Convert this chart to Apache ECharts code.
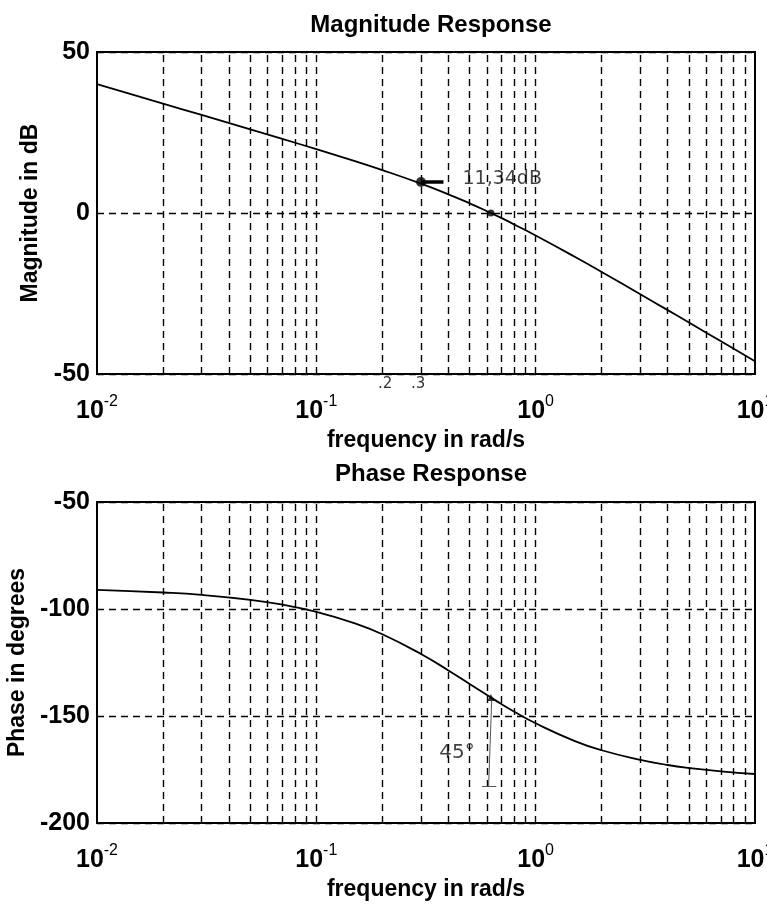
<!DOCTYPE html>
<html><head><meta charset="utf-8">
<script src="https://cdn.jsdelivr.net/npm/echarts@6/dist/echarts.min.js"></script>
<style>html,body{margin:0;padding:0;background:#fff}#c{width:767px;height:909px}</style>
</head><body><div id="c"></div>
<script>
// ---- data ----
const freqs      = [0.01, 0.02, 0.03, 0.05, 0.07, 0.1, 0.15, 0.2, 0.3, 0.4, 0.5, 0.6, 0.7, 0.8, 1, 1.5, 2, 3, 4, 5, 7, 10];
const magnitude  = [40.0, 33.97, 30.44, 25.98, 23.01, 19.83, 16.10, 13.33, 9.12, 5.81, 3.01, 0.56, -1.61, -3.58, -6.99, -13.52, -18.32, -25.22, -30.17, -34.02, -39.84, -46.03];
const phase      = [-91.1, -92.3, -93.4, -95.7, -98.0, -101.3, -106.7, -111.8, -121.0, -128.7, -135.0, -140.2, -144.5, -148.0, -153.4, -161.6, -166.0, -170.5, -172.9, -174.3, -175.9, -177.1];
const gridFreqs  = [0.02,0.03,0.04,0.05,0.06,0.07,0.08,0.09,0.1,0.2,0.3,0.4,0.5,0.6,0.7,0.8,0.9,1,2,3,4,5,6,7,8,9];
const magTicks   = {min: -50, max: 50, interval: 50};
const phaseTicks = {min: -200, max: -50, interval: 50};
const magMarker  = [0.3, 9.6];
const magArrowEnd = [0.38, 9.7];
const crossMag   = [0.625, 0];
const crossPhase = [0.625, -141.3];
const magNote    = {at: [0.44, 10.5], text: '11,34dB'};
const phaseNote  = {at: [0.345, -167], text: '45°'};
const phaseArrow = [[0.63, -143], [0.61, -183]];
const phaseArrowFoot = [[0.57, -183], [0.66, -183]];

const font = 'Liberation Sans, Arial, sans-serif';
const dash = [7, 5];
function xLab(v){ const e = Math.round(Math.log10(v)); return '10{s|' + e + '}'; }
function xAxisDef(gi){
  return {type:'log', logBase:10, gridIndex:gi, min:0.01, max:10,
    name:'frequency in rad/s', nameLocation:'middle', nameGap:55,
    nameTextStyle:{fontFamily:font, fontWeight:'bold', fontSize:23, color:'#000'},
    axisLine:{show:true, onZero:false, lineStyle:{color:'#000', width:2}},
    axisTick:{show:false}, minorTick:{show:false},
    splitLine:{show:false},
    axisLabel:{formatter:xLab, margin:20, fontFamily:font, fontWeight:'bold', fontSize:25, color:'#000',
      rich:{s:{fontFamily:font, fontSize:16, fontWeight:'normal', color:'#000', verticalAlign:'top', padding:[0,0,18,0]}}}};
}
function yAxisDef(gi, t, name, gap){
  return {type:'value', gridIndex:gi, min:t.min, max:t.max, interval:t.interval,
    name:name, nameLocation:'middle', nameGap:gap,
    nameTextStyle:{fontFamily:font, fontWeight:'bold', fontSize:23, color:'#000'},
    axisLine:{show:true, onZero:false, lineStyle:{color:'#000', width:2}},
    axisTick:{show:false},
    splitLine:{show:true, lineStyle:{color:'#000', type:dash, width:1.4}},
    axisLabel:{margin:7, fontFamily:font, fontWeight:'bold', fontSize:25, color:'#000'}};
}
const vLines = gridFreqs.map(f => ({xAxis:f}));
const vLineMark = {silent:true, symbol:'none', label:{show:false},
  lineStyle:{color:'#000', type:dash, width:1.4}, data:vLines};

const option = {
  animation:false,
  backgroundColor:'#fff',
  title:[
    {text:'Magnitude Response', left:426, top:8, textAlign:'center',
     textStyle:{fontFamily:font, fontWeight:'bold', fontSize:24, color:'#000'}},
    {text:'Phase Response', left:426, top:457, textAlign:'center',
     textStyle:{fontFamily:font, fontWeight:'bold', fontSize:24, color:'#000'}}
  ],
  grid:[
    {left:97, top:52, width:658, height:322, show:true, borderColor:'#000', borderWidth:2, backgroundColor:'transparent', containLabel:false, outerBoundsMode:'none'},
    {left:97, top:502, width:658, height:321, show:true, borderColor:'#000', borderWidth:2, backgroundColor:'transparent', containLabel:false, outerBoundsMode:'none'}
  ],
  xAxis:[xAxisDef(0), xAxisDef(1)],
  yAxis:[yAxisDef(0, magTicks, 'Magnitude in dB', 55), yAxisDef(1, phaseTicks, 'Phase in degrees', 63)],
  series:[
    {type:'line', xAxisIndex:0, yAxisIndex:0, data:freqs.map((f,i)=>[f, magnitude[i]]),
     smooth:true, showSymbol:false, lineStyle:{color:'#000', width:1.8}, markLine:vLineMark, z:3},
    {type:'line', xAxisIndex:1, yAxisIndex:1, data:freqs.map((f,i)=>[f, phase[i]]),
     smooth:true, showSymbol:false, lineStyle:{color:'#000', width:1.8}, markLine:vLineMark, z:3},
    {type:'scatter', xAxisIndex:0, yAxisIndex:0, data:[magMarker], symbolSize:10, itemStyle:{color:'#000'}, z:5,
     markLine:{silent:true, symbol:'none', label:{show:false}, lineStyle:{color:'#000', type:'solid', width:3.5},
       data:[[{coord:magMarker},{coord:magArrowEnd}]]}},
    {type:'scatter', xAxisIndex:0, yAxisIndex:0, data:[crossMag], symbolSize:7, itemStyle:{color:'#000'}, z:5},
    {type:'scatter', xAxisIndex:1, yAxisIndex:1, data:[crossPhase], symbol:'triangle', symbolSize:7, itemStyle:{color:'#000'}, z:5,
     markLine:{silent:true, symbol:['none','none'], label:{show:false}, lineStyle:{color:'#555', type:'solid', width:1},
       data:[[{coord:phaseArrow[0]},{coord:phaseArrow[1]}],[{coord:phaseArrowFoot[0]},{coord:phaseArrowFoot[1]}]]}},
    {type:'scatter', xAxisIndex:0, yAxisIndex:0, data:[magNote.at], symbolSize:0, z:6,
     label:{show:true, position:'right', formatter:magNote.text, fontFamily:'DejaVu Sans', fontSize:19, color:'#111'}},
    {type:'scatter', xAxisIndex:1, yAxisIndex:1, data:[phaseNote.at], symbolSize:0, z:6,
     label:{show:true, position:'right', formatter:phaseNote.text, fontFamily:'DejaVu Sans', fontSize:20, color:'#111'}}
  ],
  graphic:[
    {type:'text', left:378, top:377, style:{text:'.2', font:'15px DejaVu Sans', fill:'#333'}},
    {type:'text', left:411, top:377, style:{text:'.3', font:'15px DejaVu Sans', fill:'#333'}}
  ]
};
const chart = echarts.init(document.getElementById('c'), null, {renderer:'canvas'});
chart.setOption(option);
</script>
</body></html>
